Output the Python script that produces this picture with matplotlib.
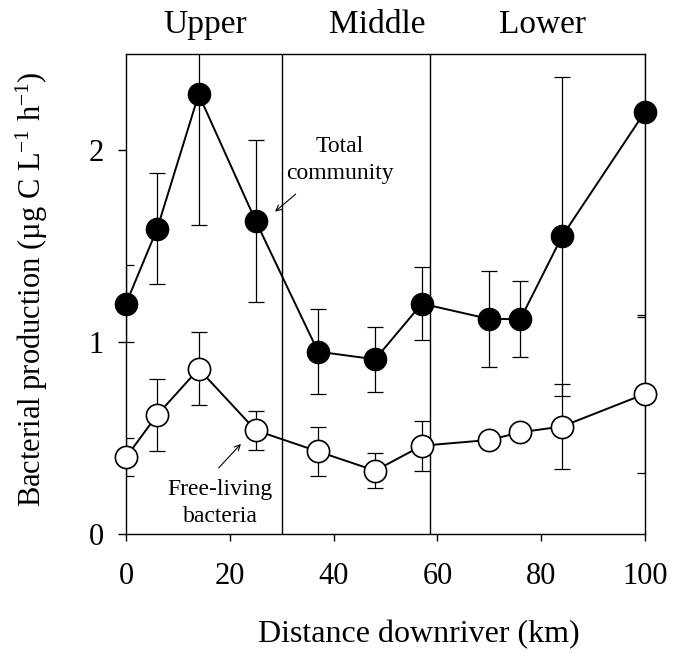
import matplotlib
matplotlib.use("Agg")
import matplotlib.pyplot as plt

plt.rcParams['font.family'] = ['Liberation Serif', 'DejaVu Serif']
plt.rcParams['mathtext.fontset'] = 'custom'
plt.rcParams['mathtext.rm'] = 'Liberation Serif'
plt.rcParams['mathtext.it'] = 'Liberation Serif:italic'

# distance downriver (km)
distance = [0, 6, 14, 25, 37, 48, 57, 70, 76, 84, 100]

# total community production and error
total = [1.20, 1.59, 2.29, 1.63, 0.95, 0.91, 1.20, 1.12, 1.12, 1.55, 2.20]
total_err = [0.20, 0.29, 0.68, 0.42, 0.22, 0.17, 0.19, 0.25, 0.20, 0.83, 1.07]

# free-living bacteria production and error
free = [0.40, 0.62, 0.86, 0.54, 0.43, 0.33, 0.46, 0.49, 0.53, 0.56, 0.73]
free_err = [0.10, 0.19, 0.19, 0.10, 0.13, 0.09, 0.13, 0.0, 0.0, 0.22, 0.41]

region_bounds = [30, 58.5]
region_names = ['Upper', 'Middle', 'Lower']
region_centers = [15.2, 48.5, 80.3]

fig = plt.figure(figsize=(6.75, 6.53), dpi=100)
ax = fig.add_axes([0.1867, 0.1822, 0.7689, 0.735])

for xb in region_bounds:
    ax.axvline(xb, color='black', lw=1.0, zorder=1)

# error bars
ax.errorbar(distance, total, yerr=total_err, fmt='none', ecolor='black',
            elinewidth=0.9, capsize=6, capthick=0.9, zorder=2)
ax.errorbar(distance, free, yerr=free_err, fmt='none', ecolor='black',
            elinewidth=0.9, capsize=6, capthick=0.9, zorder=2)

# series
ax.plot(distance, total, '-o', color='black', lw=1.4, ms=16,
        mfc='black', mec='black', zorder=3, clip_on=False)
ax.plot(distance, free, '-o', color='black', lw=1.4, ms=16,
        mfc='white', mec='black', mew=1.2, zorder=3, clip_on=False)

ax.set_xlim(0, 100)
ax.set_ylim(0, 2.5)
ax.set_xticks([0, 20, 40, 60, 80, 100])
ax.set_yticks([0, 1, 2])
ax.tick_params(axis='x', direction='out', length=5, width=1, labelsize=22, pad=15)
ax.tick_params(axis='y', direction='out', length=6, width=1, labelsize=22, pad=10)
for s in ax.spines.values():
    s.set_linewidth(1.0)

for name, xc in zip(region_names, region_centers):
    ax.text(xc, 1.044, name, transform=ax.get_xaxis_transform(),
            ha='center', va='baseline', fontsize=24)

ax.text(0.565, -0.21, 'Distance downriver (km)', transform=ax.transAxes,
        ha='center', va='center', fontsize=23)
ax.text(-0.181, 0.51, 'Bacterial production (µg C L$^{-1}$ h$^{-1}$)',
        transform=ax.transAxes, ha='center', va='center', rotation=90, fontsize=22)

# annotations
ax.text(41.2, 1.99, 'Total', ha='center', va='baseline', fontsize=17)
ax.text(41.2, 1.85, 'community', ha='center', va='baseline', fontsize=17)
ax.annotate('', xy=(28.3, 1.67), xytext=(33.1, 1.78),
            arrowprops=dict(arrowstyle='->', lw=0.8, color='black'))
ax.text(18.1, 0.204, 'Free-living', ha='center', va='baseline', fontsize=17)
ax.text(18.1, 0.063, 'bacteria', ha='center', va='baseline', fontsize=17)
ax.annotate('', xy=(22.5, 0.48), xytext=(17.5, 0.334),
            arrowprops=dict(arrowstyle='->', lw=0.8, color='black'))

fig.savefig('out.png', dpi=100)
